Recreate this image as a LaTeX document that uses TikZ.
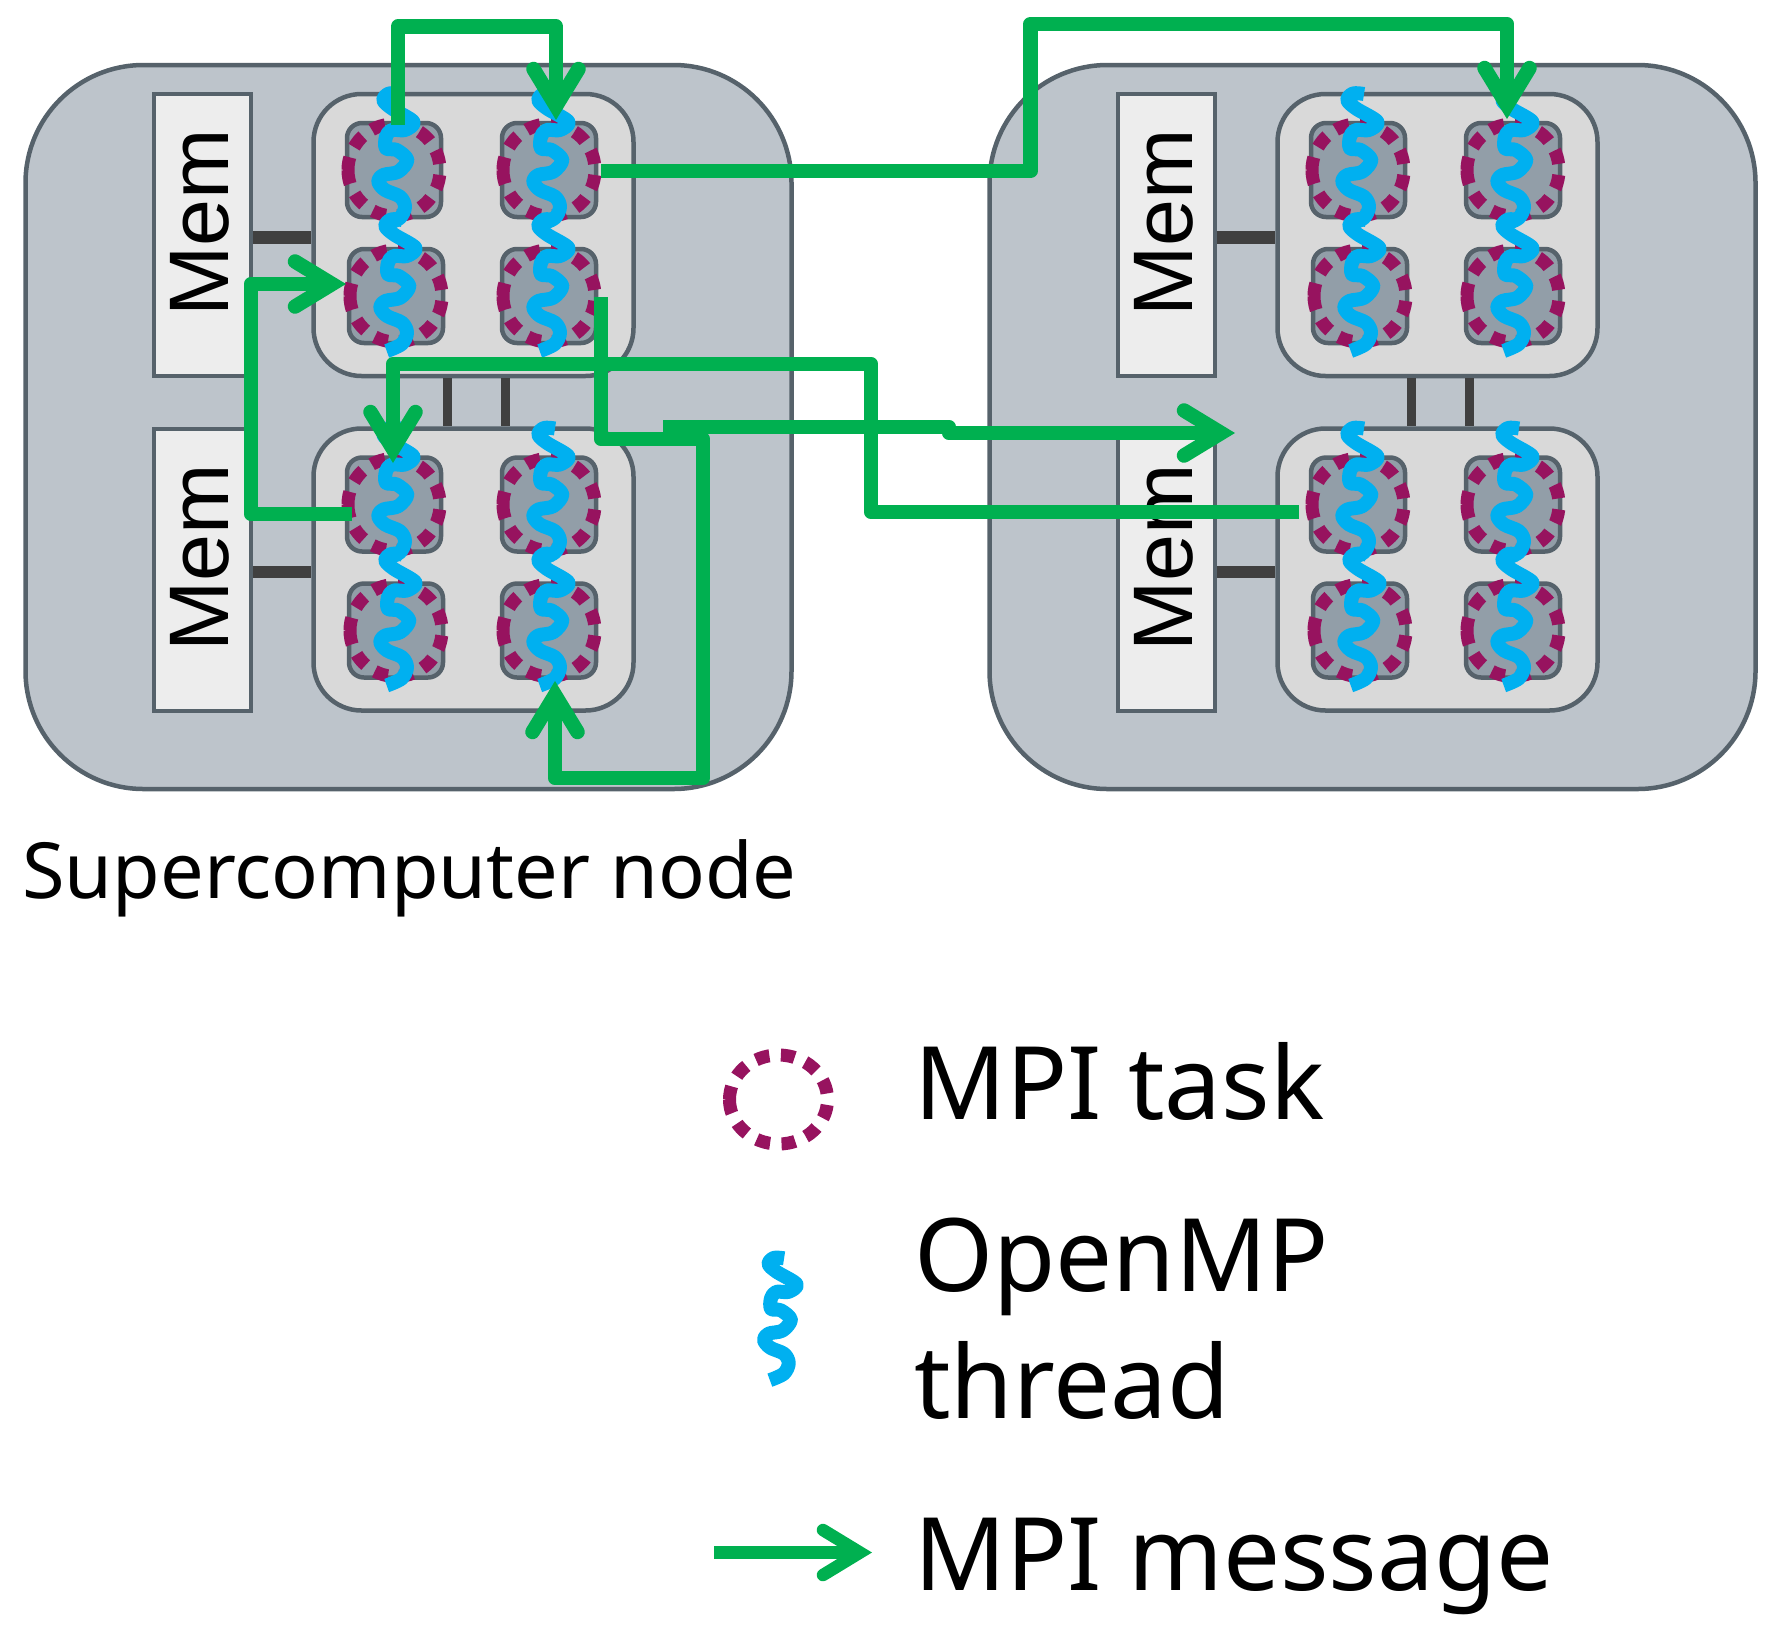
\documentclass[tikz,border=0pt]{standalone}
\usepackage{fontspec}
\setmainfont{Noto Sans}
\newfontfamily\memfont{Liberation Sans}
\usetikzlibrary{arrows.meta,positioning}
\definecolor{panelfill}{HTML}{BDC4CB}
\definecolor{edgegrey}{HTML}{56626B}
\definecolor{socketfill}{HTML}{D9D9D9}
\definecolor{memfill}{HTML}{EDEDED}
\definecolor{corefill}{HTML}{929EA8}
\definecolor{linkgrey}{HTML}{404040}
\definecolor{taskpurple}{HTML}{97135F}
\definecolor{threadblue}{HTML}{00B0F0}
\definecolor{msggreen}{HTML}{00B050}
\tikzset{
  panelbox/.style={draw=edgegrey,line width=4.5pt,fill=panelfill,rounded corners=118pt,minimum width=766pt,minimum height=724pt,inner sep=0pt},
  socketbox/.style={draw=edgegrey,line width=4.5pt,fill=socketfill,rounded corners=48pt,minimum width=320pt,minimum height=282pt,inner sep=0pt},
  membox/.style={draw=edgegrey,line width=4pt,fill=memfill,minimum width=97pt,minimum height=282pt,inner sep=0pt},
  memtext/.style={rotate=90,font=\memfont\fontsize{84.5}{84.5}\selectfont,inner sep=0pt},
  corebox/.style={draw=edgegrey,line width=4.5pt,fill=corefill,rounded corners=15pt,minimum size=94pt,inner sep=0pt},
  bus/.style={linkgrey,line width=9pt},
  membus/.style={linkgrey,line width=12.5pt},
  taskring/.style={taskpurple,line width=13pt,dash pattern=on 14pt off 11.1pt},
  threadline/.style={threadblue,line width=14pt,line join=round},
  msg/.style={msggreen,line width=14.5pt,line join=round,-{Straight Barb[length=37pt,width=45pt,line cap=round,line join=miter]}},
  caption/.style={anchor=base west,inner sep=0pt,font=\fontsize{101.4}{101.4}\selectfont},
  threadseg/.pic={
    \draw[threadline] plot[smooth,tension=.55] coordinates {(6,-76) (-5,-76.5) (-10.7,-70) (-2.3,-61.7) (19.3,-48.3) (11,-40) (-2.3,-40) (-8,-33.3) (-8,-21.7) (2.7,-20) (13.3,-10) (4.3,1.7) (-10.7,5) (-15.7,11.7) (-9,20) (6,26.7) (11,36.7) (5.7,48) (-9.3,55)};
  },
}
\begin{document}
\begin{tikzpicture}[x=1pt,y=-1pt]
  \useasboundingbox (0,0) rectangle (1772,1642);

  \foreach \pnl/\dx in {A/0,B/964} {
    \node[panelbox] (panel\pnl) at (408.5+\dx,427) {};
    \foreach \skt/\dy in {t/0,b/334.5} {
      \node[membox] (mem\pnl\skt) at (202+\dx,235+\dy) {};
      \node[memtext] (memlabel\pnl\skt) at (199.5+\dx,223+\dy) {Mem};
      \node[socketbox] (socket\pnl\skt) at (473.5+\dx,235+\dy) {};
      \draw[membus] ([yshift=-2.5pt]mem\pnl\skt.east) -- ([yshift=-2.5pt]socket\pnl\skt.west);
      % four cores, each with its task ring and its thread
      \foreach \cre/\cx/\cy in {1/394/170,2/396/296,3/549/170,4/549/296} {
        \node[corebox] (core\pnl\skt\cre) at (\cx+\dx,\cy+\dy) {};
        \draw[taskring] (core\pnl\skt\cre.center) ++(-46,0) arc[start angle=180,end angle=-180,radius=46];
      }
      \foreach \cre in {1,2,3,4} {
        \pic at (core\pnl\skt\cre.center) {threadseg};
      }
    }
    \draw[bus] ([xshift=-26pt]socket\pnl t.south) -- ([xshift=-26pt]socket\pnl b.north);
    \draw[bus] ([xshift=31.5pt]socket\pnl t.south) -- ([xshift=31.5pt]socket\pnl b.north);
  }

  \node[anchor=base west,inner sep=0pt,font=\fontsize{77.5}{77.5}\selectfont] (nodelabel) at (22,898) {Supercomputer node};

  % messages
  \coordinate (msgAs) at (398,125);
  \coordinate (msgAe) at (556,120);
  \coordinate (msgBs) at (601,171);
  \coordinate (msgBe) at (1507,119);
  \coordinate (msgCs) at (601,297);
  \coordinate (msgCe) at (555,681);
  \coordinate (msgDs) at (663,427);
  \coordinate (msgDe) at (1235,433);
  \coordinate (msgEs) at (1299,512);
  \coordinate (msgEe) at (393,463);
  \coordinate (msgFs) at (352,514);
  \coordinate (msgFe) at (346,284);
  \draw[msg] (msgAs) -- ++(0,-98.5) -| (msgAe);
  \draw[msg] (msgBs) -- ++(429.5,0) -- ++(0,-147) -| (msgBe);
  \draw[msg] (msgCs) -- ++(0,142) -- ++(102,0) -- ++(0,339) -| (msgCe);
  \draw[msg] (msgDs) -- ++(286,0) -- ++(0,6) -- (msgDe);
  \draw[msg] (msgEs) -- ++(-428,0) -- ++(0,-148) -| (msgEe);
  \draw[msg] (msgFs) -- ++(-101,0) -- ++(0,-230) -- (msgFe);

  % legend
  \coordinate (legtask) at (778.5,1099.5);
  \draw[taskring,dash pattern=on 14pt off 11.5pt] (legtask) ++(-49,0) arc[start angle=180,end angle=-180,x radius=49,y radius=44.5];
  \node[caption] (tasklabel) at (914,1119) {MPI task};
  \coordinate (legthread) at (778.5,1329);
  \pic[xscale=.93,yscale=.93] at (legthread) {threadseg};
  \node[caption] (threadlabela) at (914,1291.5) {OpenMP};
  \node[caption] (threadlabelb) at (914,1418) {thread};
  \coordinate (legmsgs) at (714,1552.5);
  \coordinate (legmsge) at (872,1552.5);
  \draw[msg,line width=12.5pt] (legmsgs) -- (legmsge);
  \node[caption] (msglabel) at (914,1590) {MPI message};
\end{tikzpicture}
\end{document}
